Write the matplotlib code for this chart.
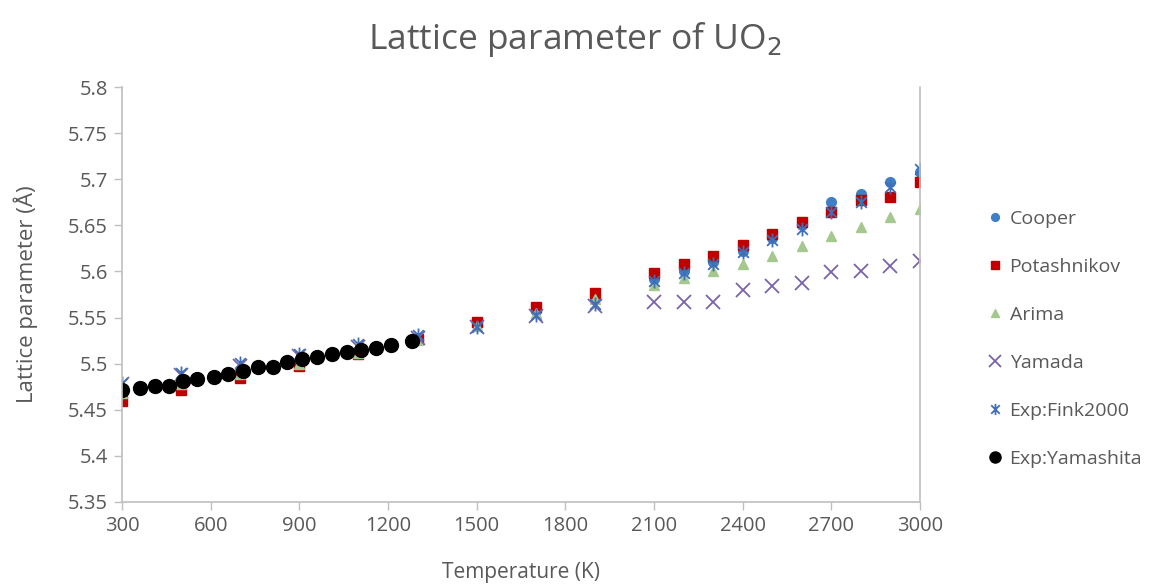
import matplotlib
matplotlib.use("Agg")
import matplotlib.pyplot as plt
from matplotlib.path import Path

plt.rcParams['font.family'] = ['Open Sans', 'DejaVu Sans']

temps = [300, 500, 700, 900, 1100, 1300, 1500, 1700, 1900, 2100, 2200, 2300,
         2400, 2500, 2600, 2700, 2800, 2900, 3000]
cooper = [5.468, 5.478, 5.489, 5.500, 5.513, 5.527, 5.542, 5.557, 5.574, 5.592,
          5.600, 5.610, 5.622, 5.636, 5.650, 5.675, 5.684, 5.697, 5.708]
potashnikov = [5.459, 5.471, 5.484, 5.497, 5.511, 5.527, 5.545, 5.561, 5.577,
               5.598, 5.608, 5.617, 5.629, 5.641, 5.654, 5.665, 5.677, 5.681, 5.697]
arima = [5.468, 5.478, 5.489, 5.500, 5.512, 5.526, 5.541, 5.555, 5.570, 5.585,
         5.593, 5.600, 5.608, 5.617, 5.628, 5.638, 5.648, 5.659, 5.668]
yamada = [5.478, 5.488, 5.498, 5.508, 5.518, 5.528, 5.540, 5.552, 5.563, 5.567,
          5.567, 5.567, 5.580, 5.584, 5.588, 5.599, 5.601, 5.606, 5.611]
fink2000 = [5.479, 5.490, 5.501, 5.510, 5.521, 5.531, 5.540, 5.553, 5.565, 5.590,
            5.598, 5.608, 5.621, 5.634, 5.646, 5.664, 5.675, 5.692, 5.711]

yam_temps = [300, 360, 410, 460, 505, 555, 610, 660, 710, 760, 810, 860, 910,
             960, 1010, 1060, 1110, 1160, 1210, 1280]
yamashita = [5.471, 5.4735, 5.476, 5.476, 5.4815, 5.4834, 5.4859, 5.4888, 5.4924,
             5.496, 5.4967, 5.5014, 5.5051, 5.5068, 5.5105, 5.5123, 5.515, 5.517,
             5.5207, 5.525]

x_ticks = [300, 600, 900, 1200, 1500, 1800, 2100, 2400, 2700, 3000]
y_ticks = [5.35, 5.4, 5.45, 5.5, 5.55, 5.6, 5.65, 5.7, 5.75, 5.8]
y_ticklabels = ['5.35', '5.4', '5.45', '5.5', '5.55', '5.6', '5.65', '5.7', '5.75', '5.8']

star = Path([(-1, -1), (1, 1), (-1, 1), (1, -1), (0, -1.3), (0, 1.3)],
            [Path.MOVETO, Path.LINETO, Path.MOVETO, Path.LINETO, Path.MOVETO, Path.LINETO])

fig = plt.figure(figsize=(11.63, 5.88), dpi=100)
ax = fig.add_axes([0.1049, 0.1463, 0.791 - 0.1049, 0.852 - 0.1463])

ax.plot(temps, cooper, 'o', ms=7, color='#3F7FC8', label='Cooper', linestyle='none')
ax.plot(temps, potashnikov, 's', ms=7.5, color='#C00000', label='Potashnikov', linestyle='none')
ax.plot(temps, arima, '^', ms=7.5, color='#A5C88F', label='Arima', linestyle='none')
ax.plot(temps, yamada, 'x', ms=10, mew=1.3, color='#7A63AA', label='Yamada', linestyle='none')
ax.plot(temps, fink2000, marker=star, ms=10, mew=1.3, color='#3F6FB8', mfc='none',
        label='Exp:Fink2000', linestyle='none')
ax.plot(yam_temps, yamashita, 'o', ms=10, color='black', label='Exp:Yamashita', linestyle='none')

ax.set_xlim(300, 3000)
ax.set_ylim(5.35, 5.8)
ax.set_xticks(x_ticks)
ax.set_yticks(y_ticks)
ax.set_yticklabels(y_ticklabels)

grey = '#595959'
line = '#BFBFBF'
ax.spines['top'].set_visible(False)
for s in ['left', 'bottom', 'right']:
    ax.spines[s].set_color(line)
    ax.spines[s].set_linewidth(1.2)
ax.tick_params(axis='both', colors=line, labelcolor=grey, labelsize=14.5, length=6, width=1)
ax.tick_params(axis='x', pad=4)
ax.tick_params(axis='y', pad=4)

ax.set_xlabel('Temperature (K)', fontsize=15, color=grey, labelpad=19)
ax.set_ylabel('Lattice parameter (Å)', fontsize=16, color=grey, labelpad=22)
fig.text(0.494, 0.933, 'Lattice parameter of UO$_2$', ha='center', va='center',
         fontsize=25.5, color=grey)

leg = ax.legend(loc='center left', bbox_to_anchor=(1.077, 0.393), frameon=False,
                fontsize=14, labelspacing=1.55, handlelength=0.6, handletextpad=0.45,
                borderaxespad=0, markerscale=0.8)
for t in leg.get_texts():
    t.set_color(grey)

fig.savefig('out.png', dpi=100, facecolor='white')
